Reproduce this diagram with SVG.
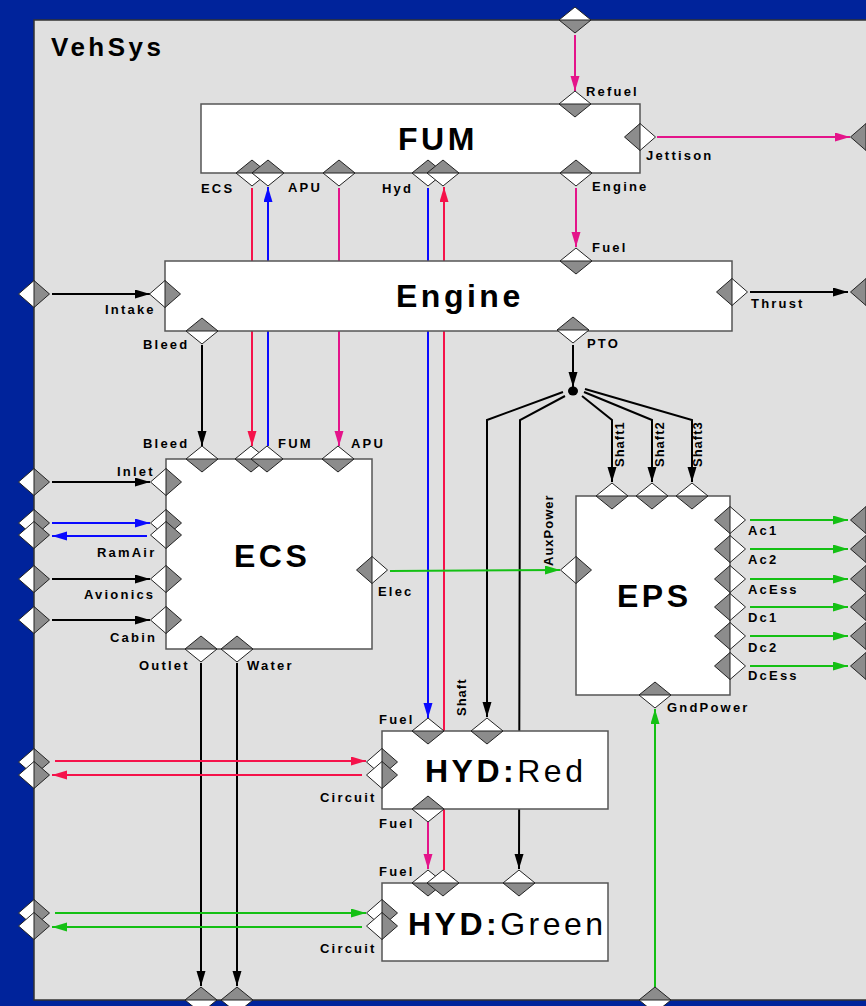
<svg xmlns="http://www.w3.org/2000/svg" width="866" height="1006" viewBox="0 0 866 1006">
<style>
.box{fill:#fff;stroke:#555;stroke-width:1.5}
.t{font-family:"Liberation Sans",Arial,sans-serif;font-weight:bold;font-size:13px;letter-spacing:2.2px;fill:#000}
.rt{font-family:"Liberation Sans",Arial,sans-serif;font-weight:bold;font-size:13px;letter-spacing:1px;fill:#000}
.title{font-family:"Liberation Sans",Arial,sans-serif;font-weight:bold;font-size:32px;letter-spacing:3.5px;fill:#000}
.c{fill:none;stroke-width:2}
.k{stroke:#000}.r{stroke:#f5124a}.m{stroke:#e4148a}.b{stroke:#0a0aff}.g{stroke:#14c014}
.w{fill:#fff}.d{fill:#8c8c8c}.o{fill:none;stroke:#222;stroke-width:1}
</style>
<defs>
<marker id="aK" markerUnits="userSpaceOnUse" markerWidth="16" markerHeight="10" refX="15" refY="4.5" orient="auto"><path d="M0,0L15,4.5L0,9z" fill="#000"/></marker>
<marker id="aR" markerUnits="userSpaceOnUse" markerWidth="16" markerHeight="10" refX="15" refY="4.5" orient="auto"><path d="M0,0L15,4.5L0,9z" fill="#f5124a"/></marker>
<marker id="aM" markerUnits="userSpaceOnUse" markerWidth="16" markerHeight="10" refX="15" refY="4.5" orient="auto"><path d="M0,0L15,4.5L0,9z" fill="#e4148a"/></marker>
<marker id="aB" markerUnits="userSpaceOnUse" markerWidth="16" markerHeight="10" refX="15" refY="4.5" orient="auto"><path d="M0,0L15,4.5L0,9z" fill="#0a0aff"/></marker>
<marker id="aG" markerUnits="userSpaceOnUse" markerWidth="16" markerHeight="10" refX="15" refY="4.5" orient="auto"><path d="M0,0L15,4.5L0,9z" fill="#14c014"/></marker>
<g id="pT"><path class="w" d="M-16,0L0,-13L16,0z"/><path class="d" d="M-16,0L0,13L16,0z"/><path class="o" d="M-16,0L0,-13L16,0L0,13zM-16,0H16"/></g>
<g id="pB"><path class="d" d="M-16,0L0,-13L16,0z"/><path class="w" d="M-16,0L0,13L16,0z"/><path class="o" d="M-16,0L0,-13L16,0L0,13zM-16,0H16"/></g>
<g id="pL"><path class="w" d="M0,-13.5L-15.5,0L0,13.5z"/><path class="d" d="M0,-13.5L15.5,0L0,13.5z"/><path class="o" d="M0,-13.5L15.5,0L0,13.5L-15.5,0zM0,-13.5V13.5"/></g>
<g id="pR"><path class="d" d="M0,-13.5L-15.5,0L0,13.5z"/><path class="w" d="M0,-13.5L15.5,0L0,13.5z"/><path class="o" d="M0,-13.5L15.5,0L0,13.5L-15.5,0zM0,-13.5V13.5"/></g>
</defs>
<rect x="0" y="0" width="866" height="1006" fill="#00239b"/>
<g id="VehSys">
<rect x="34" y="20" width="850" height="980" fill="#e0e0e0" stroke="#333" stroke-width="1.5"/>
<text x="51" y="56" font-family="Liberation Sans, Arial, sans-serif" font-weight="bold" font-size="26" letter-spacing="3.5">VehSys</text>
</g>
<g id="connectors">
<path class="c m" d="M575,35V91" marker-end="url(#aM)"/>
<path class="c m" d="M657,137H850" marker-end="url(#aM)"/>
<path class="c m" d="M576,188V247" marker-end="url(#aM)"/>
<path class="c r" d="M252,188V446" marker-end="url(#aR)"/>
<path class="c b" d="M268,446V187" marker-end="url(#aB)"/>
<path class="c m" d="M339,188V446" marker-end="url(#aM)"/>
<path class="c b" d="M428,188V718" marker-end="url(#aB)"/>
<path class="c r" d="M444,870V187" marker-end="url(#aR)"/>
<path class="c k" d="M52,294H150" marker-end="url(#aK)"/>
<path class="c k" d="M750,292H848" marker-end="url(#aK)"/>
<path class="c k" d="M202,345V446" marker-end="url(#aK)"/>
<path class="c k" d="M573,345V387" marker-end="url(#aK)"/>
<ellipse cx="573" cy="391" rx="5" ry="4.5" fill="#000"/>
<path class="c k" d="M563,392L487,420V717" marker-end="url(#aK)"/>
<path class="c k" d="M565,396L520,420L519,869" marker-end="url(#aK)"/>
<path class="c k" d="M582,396L612,420V482" marker-end="url(#aK)"/>
<path class="c k" d="M584,392L652,420V482" marker-end="url(#aK)"/>
<path class="c k" d="M585,389L692,420V482" marker-end="url(#aK)"/>
<path class="c k" d="M52,482H150" marker-end="url(#aK)"/>
<path class="c b" d="M52,523H150" marker-end="url(#aB)"/>
<path class="c b" d="M147,536H52" marker-end="url(#aB)"/>
<path class="c k" d="M52,579H150" marker-end="url(#aK)"/>
<path class="c k" d="M52,620H150" marker-end="url(#aK)"/>
<path class="c g" d="M390,571L560,570" marker-end="url(#aG)"/>
<path class="c g" d="M750,520H848" marker-end="url(#aG)"/>
<path class="c g" d="M750,549H848" marker-end="url(#aG)"/>
<path class="c g" d="M750,579H848" marker-end="url(#aG)"/>
<path class="c g" d="M750,607H848" marker-end="url(#aG)"/>
<path class="c g" d="M750,636H848" marker-end="url(#aG)"/>
<path class="c g" d="M750,666H848" marker-end="url(#aG)"/>
<path class="c g" d="M655,987V709" marker-end="url(#aG)"/>
<path class="c k" d="M201,663V986" marker-end="url(#aK)"/>
<path class="c k" d="M237,663V986" marker-end="url(#aK)"/>
<path class="c r" d="M55,761H366" marker-end="url(#aR)"/>
<path class="c r" d="M362,775H52" marker-end="url(#aR)"/>
<path class="c m" d="M428,822V869" marker-end="url(#aM)"/>
<path class="c g" d="M55,913H366" marker-end="url(#aG)"/>
<path class="c g" d="M362,927H52" marker-end="url(#aG)"/>
</g>
<g id="vehsys-ports">
<use href="#pT" x="575" y="20"/>
<use href="#pL" x="34" y="294"/>
<use href="#pL" x="34" y="482"/>
<use href="#pL" x="34" y="523"/>
<use href="#pL" x="34" y="535"/>
<use href="#pL" x="34" y="579"/>
<use href="#pL" x="34" y="620"/>
<use href="#pL" x="34" y="762"/>
<use href="#pL" x="34" y="775"/>
<use href="#pL" x="34" y="913"/>
<use href="#pL" x="34" y="926"/>
<use href="#pR" x="866" y="137"/>
<use href="#pR" x="866" y="292"/>
<use href="#pR" x="866" y="520"/>
<use href="#pR" x="866" y="549"/>
<use href="#pR" x="866" y="579"/>
<use href="#pR" x="866" y="607"/>
<use href="#pR" x="866" y="636"/>
<use href="#pR" x="866" y="666"/>
<use href="#pB" x="201" y="1000"/>
<use href="#pB" x="237" y="1000"/>
<use href="#pB" x="655" y="1000"/>
</g>
<g id="FUM">
<rect class="box" x="201" y="104" width="439" height="69"/>
<text class="title" x="398" y="150">FUM</text>
<use href="#pT" x="575" y="104"/>
<use href="#pR" x="640" y="137"/>
<use href="#pB" x="576" y="173"/>
<use href="#pB" x="252" y="173"/>
<use href="#pB" x="268" y="173"/>
<use href="#pB" x="339" y="173"/>
<use href="#pB" x="428" y="173"/>
<use href="#pB" x="443" y="173"/>
<text class="t" x="586" y="96">Refuel</text>
<text class="t" x="646" y="160">Jettison</text>
<text class="t" x="592" y="191">Engine</text>
<text class="t" x="201" y="193">ECS</text>
<text class="t" x="288" y="192">APU</text>
<text class="t" x="382" y="193">Hyd</text>
</g>
<g id="Engine">
<rect class="box" x="165" y="261" width="567" height="70"/>
<text class="title" x="396" y="307" letter-spacing="3.4">Engine</text>
<use href="#pT" x="576" y="261"/>
<use href="#pL" x="165" y="294"/>
<use href="#pR" x="732" y="292"/>
<use href="#pB" x="202" y="331"/>
<use href="#pB" x="573" y="330"/>
<text class="t" x="592" y="252">Fuel</text>
<text class="t" x="105" y="314">Intake</text>
<text class="t" x="751" y="308">Thrust</text>
<text class="t" x="143" y="349">Bleed</text>
<text class="t" x="587" y="348">PTO</text>
</g>
<g id="ECS">
<rect class="box" x="166" y="459" width="206" height="190"/>
<text class="title" x="234" y="567">ECS</text>
<use href="#pT" x="202" y="459"/>
<use href="#pT" x="251" y="459"/>
<use href="#pT" x="267" y="459"/>
<use href="#pT" x="338" y="459"/>
<use href="#pL" x="166" y="482"/>
<use href="#pL" x="166" y="523"/>
<use href="#pL" x="166" y="535"/>
<use href="#pL" x="166" y="579"/>
<use href="#pL" x="166" y="620"/>
<use href="#pR" x="372" y="570"/>
<use href="#pB" x="201" y="649"/>
<use href="#pB" x="237" y="649"/>
<text class="t" x="143" y="448">Bleed</text>
<text class="t" x="278" y="448">FUM</text>
<text class="t" x="351" y="448">APU</text>
<text class="t" x="117" y="476">Inlet</text>
<text class="t" x="97" y="557">RamAir</text>
<text class="t" x="84" y="599">Avionics</text>
<text class="t" x="110" y="642">Cabin</text>
<text class="t" x="378" y="596">Elec</text>
<text class="t" x="139" y="670">Outlet</text>
<text class="t" x="247" y="670">Water</text>
</g>
<g id="EPS">
<rect class="box" x="576" y="496" width="154" height="199"/>
<text class="title" x="617" y="607" font-size="31" letter-spacing="4">EPS</text>
<use href="#pT" x="612" y="496"/>
<use href="#pT" x="652" y="496"/>
<use href="#pT" x="692" y="496"/>
<use href="#pL" x="576" y="570"/>
<use href="#pR" x="730" y="520"/>
<use href="#pR" x="730" y="549"/>
<use href="#pR" x="730" y="579"/>
<use href="#pR" x="730" y="607"/>
<use href="#pR" x="730" y="636"/>
<use href="#pR" x="730" y="666"/>
<use href="#pB" x="655" y="695"/>
<text class="rt" transform="translate(624,467) rotate(-90)">Shaft1</text>
<text class="rt" transform="translate(664,467) rotate(-90)">Shaft2</text>
<text class="rt" transform="translate(702,467) rotate(-90)">Shaft3</text>
<text class="rt" transform="translate(553,566) rotate(-90)" letter-spacing="1.5">AuxPower</text>
<text class="t" x="748" y="535">Ac1</text>
<text class="t" x="748" y="564">Ac2</text>
<text class="t" x="748" y="594">AcEss</text>
<text class="t" x="748" y="622">Dc1</text>
<text class="t" x="748" y="652">Dc2</text>
<text class="t" x="748" y="680">DcEss</text>
<text class="t" x="667" y="712">GndPower</text>
</g>
<g id="HYD_Red">
<rect class="box" x="382" y="731" width="226" height="78"/>
<text class="title" x="425" y="782" font-size="31">HYD:<tspan font-weight="normal">Red</tspan></text>
<use href="#pT" x="428" y="731"/>
<use href="#pT" x="487" y="731"/>
<use href="#pL" x="382" y="762"/>
<use href="#pL" x="382" y="775"/>
<use href="#pB" x="428" y="809"/>
<text class="t" x="379" y="724">Fuel</text>
<text class="rt" transform="translate(466,716) rotate(-90)">Shaft</text>
<text class="t" x="320" y="802">Circuit</text>
<text class="t" x="379" y="828">Fuel</text>
</g>
<g id="HYD_Green">
<rect class="box" x="382" y="883" width="226" height="78"/>
<text class="title" x="408" y="935" font-size="31" letter-spacing="3.8">HYD:<tspan font-weight="normal">Green</tspan></text>
<use href="#pT" x="428" y="883"/>
<use href="#pT" x="443" y="883"/>
<use href="#pT" x="519" y="883"/>
<use href="#pL" x="382" y="913"/>
<use href="#pL" x="382" y="926"/>
<text class="t" x="379" y="876">Fuel</text>
<text class="t" x="320" y="953">Circuit</text>
</g>
</svg>
